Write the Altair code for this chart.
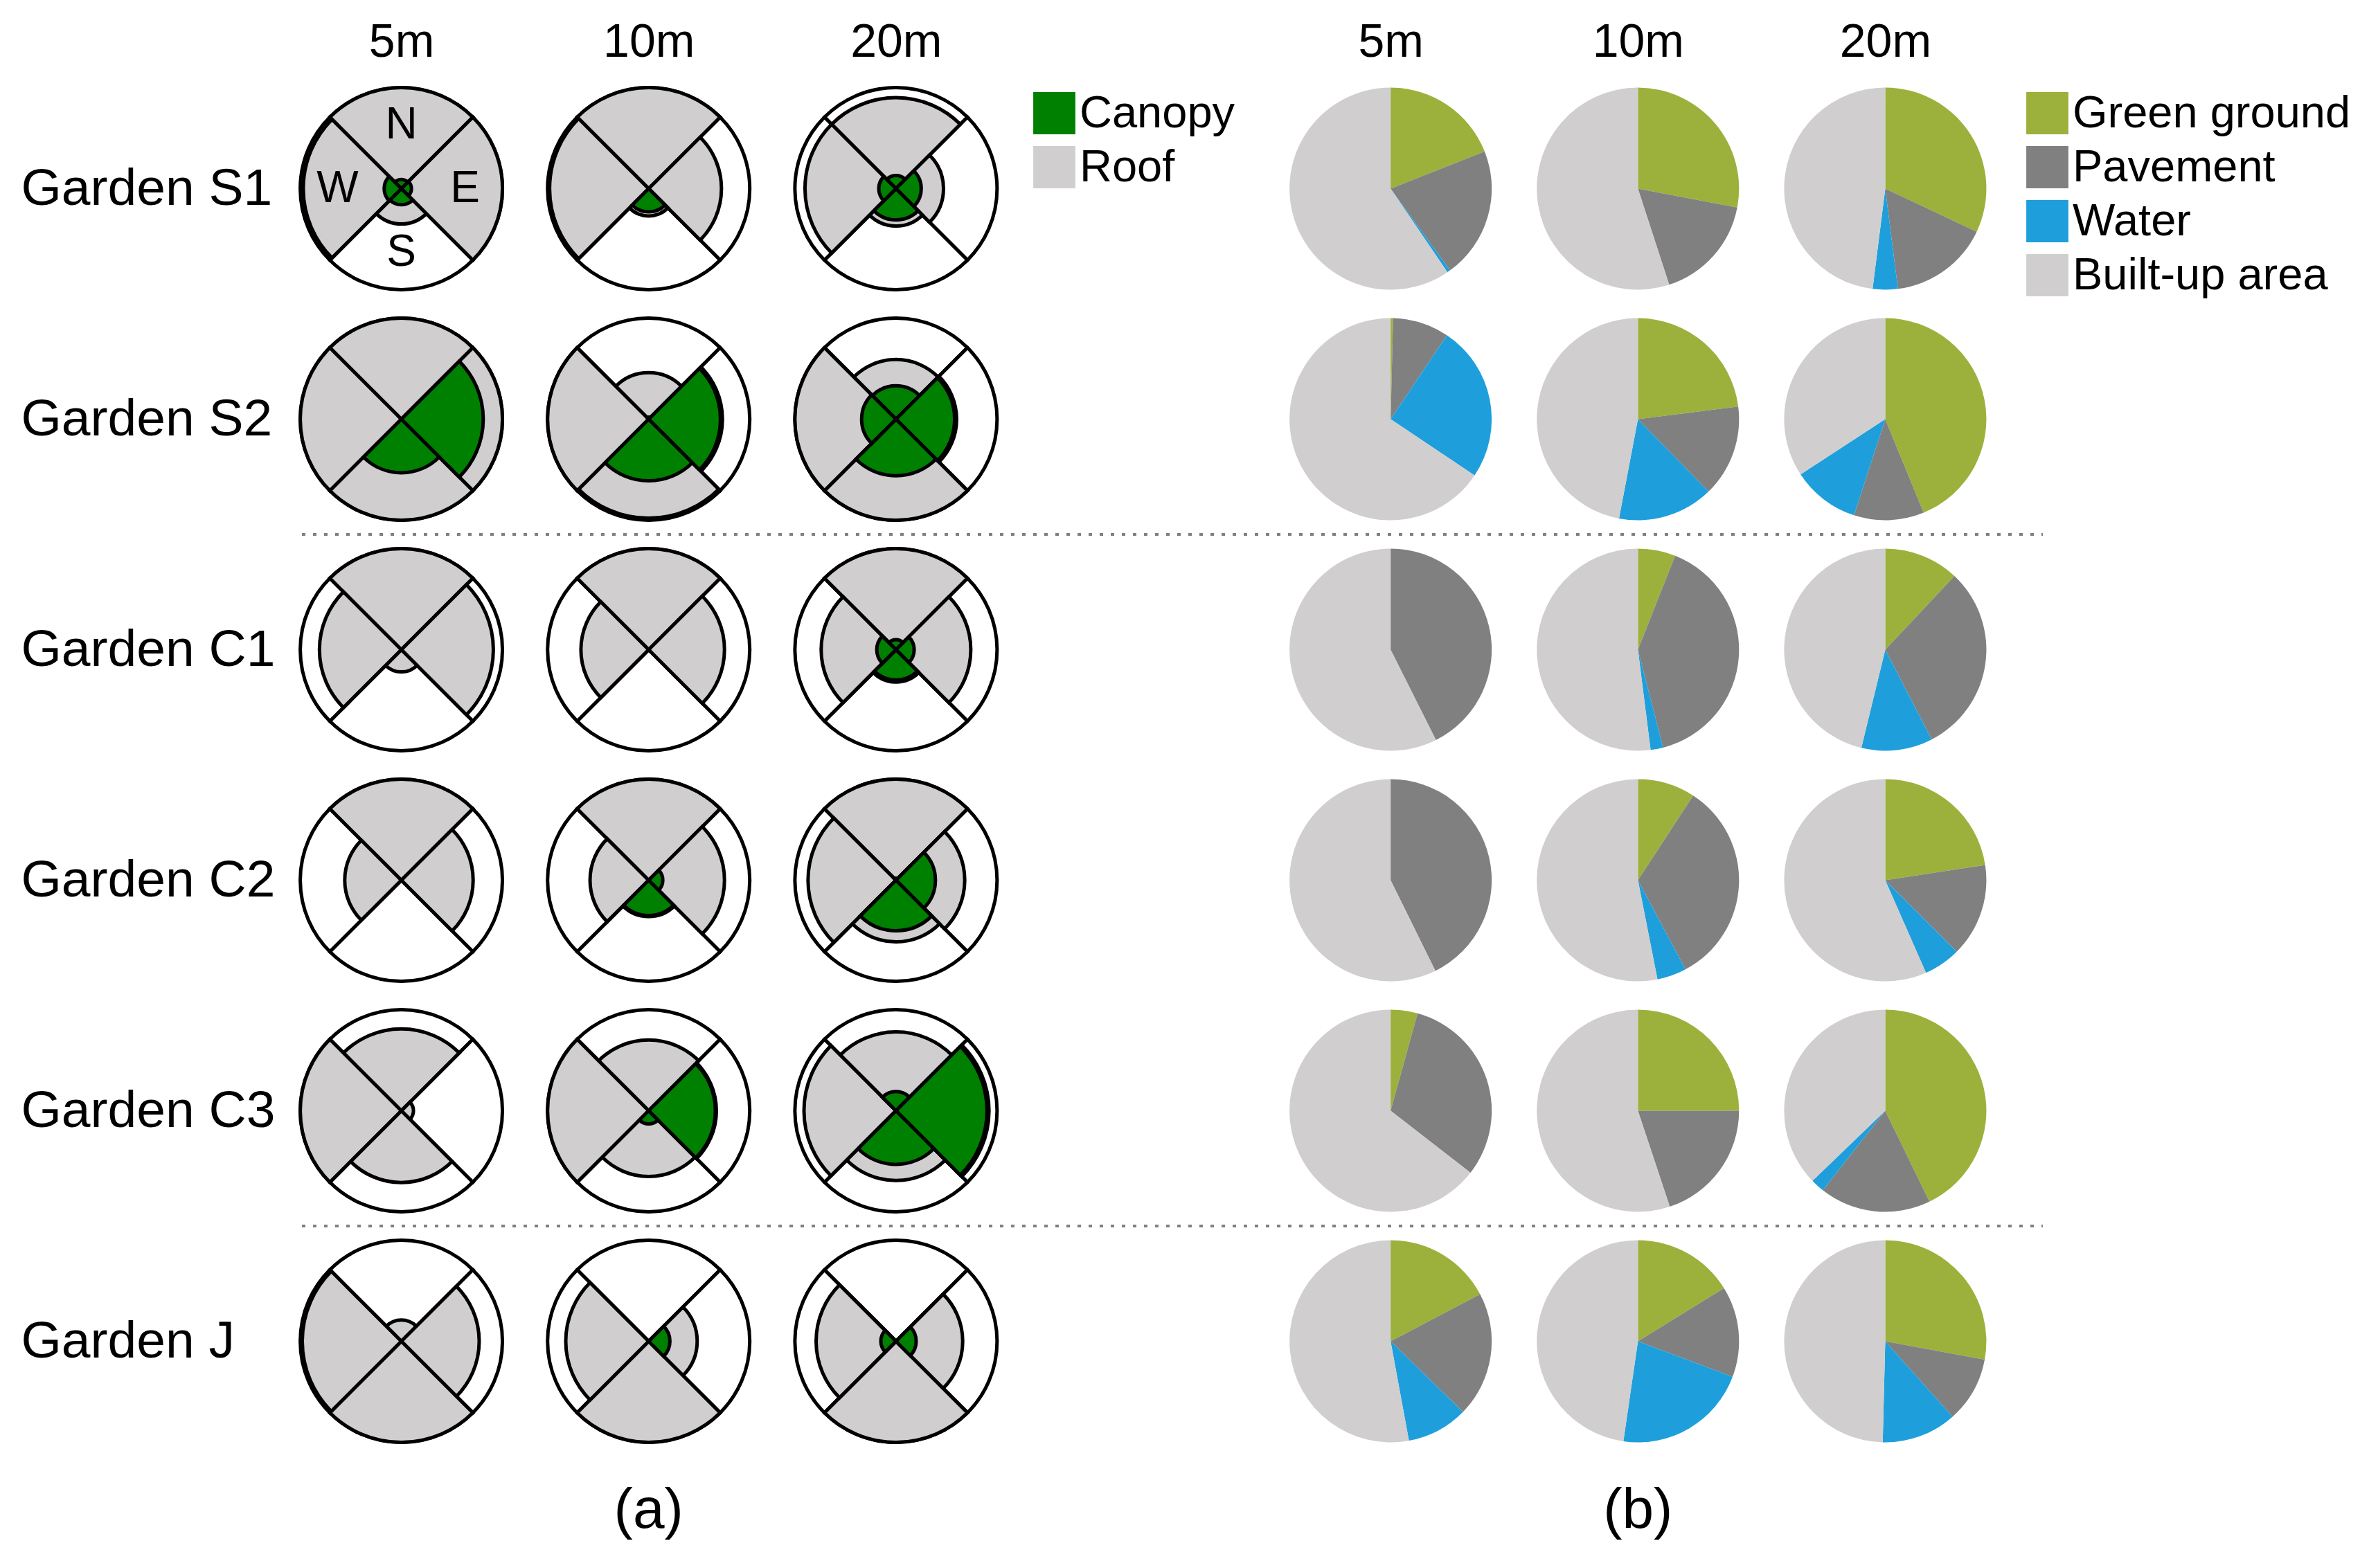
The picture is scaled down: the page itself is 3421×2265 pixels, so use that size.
import altair as alt
import pandas as pd

FONT = "Liberation Sans"

gardens = ["Garden S1", "Garden S2", "Garden C1", "Garden C2", "Garden C3", "Garden J"]
distances = ["5m", "10m", "20m"]
directions = ["N", "E", "S", "W"]
land_classes = ["Green ground", "Pavement", "Water", "Built-up area"]
cover_classes = ["Canopy", "Roof"]

# (a) relative radius of roof / canopy per direction [N, E, S, W], for 5m, 10m, 20m
roof_s1 = [[1.00, 1.00, 0.35, 0.97], [1.00, 0.72, 0.27, 0.98], [0.90, 0.47, 0.37, 0.90]]
canopy_s1 = [[0.09, 0.10, 0.16, 0.17], [0.00, 0.00, 0.23, 0.00], [0.13, 0.25, 0.31, 0.17]]
roof_s2 = [[1.00, 1.00, 1.00, 1.00], [0.46, 0.73, 0.98, 1.00], [0.59, 0.60, 1.00, 1.00]]
canopy_s2 = [[0.00, 0.81, 0.53, 0.00], [0.02, 0.71, 0.61, 0.00], [0.33, 0.58, 0.56, 0.34]]
roof_c1 = [[1.00, 0.91, 0.22, 0.81], [1.00, 0.75, 0.00, 0.67], [1.00, 0.74, 0.32, 0.74]]
canopy_c1 = [[0.00, 0.00, 0.00, 0.00], [0.00, 0.00, 0.00, 0.00], [0.10, 0.18, 0.30, 0.19]]
roof_c2 = [[1.00, 0.71, 0.00, 0.56], [1.00, 0.75, 0.36, 0.58], [1.00, 0.68, 0.61, 0.87]]
canopy_c2 = [[0.00, 0.00, 0.00, 0.00], [0.00, 0.14, 0.35, 0.00], [0.02, 0.39, 0.50, 0.00]]
roof_c3 = [[0.81, 0.12, 0.71, 1.00], [0.70, 0.67, 0.65, 1.00], [0.78, 0.92, 0.69, 0.91]]
canopy_c3 = [[0.00, 0.00, 0.00, 0.00], [0.00, 0.66, 0.13, 0.00], [0.19, 0.90, 0.53, 0.00]]
roof_j = [[0.21, 0.77, 1.00, 0.98], [0.00, 0.48, 1.00, 0.82], [0.00, 0.66, 1.00, 0.79]]
canopy_j = [[0.00, 0.00, 0.00, 0.00], [0.00, 0.21, 0.00, 0.00], [0.00, 0.20, 0.00, 0.15]]

# (b) land cover shares (%) for 5m, 10m, 20m
green_ground = {"Garden S1": [19.0, 28.0, 32.0], "Garden S2": [0.4, 23.0, 43.8],
                "Garden C1": [0.0, 6.0, 12.0], "Garden C2": [0.0, 9.2, 22.6],
                "Garden C3": [4.3, 25.0, 42.8], "Garden J": [17.3, 16.2, 27.9]}
pavement = {"Garden S1": [21.0, 17.0, 16.0], "Garden S2": [9.0, 14.7, 11.2],
            "Garden C1": [42.6, 40.0, 30.4], "Garden C2": [42.7, 33.0, 14.9],
            "Garden C3": [31.2, 19.9, 17.8], "Garden J": [20.0, 14.5, 10.5]}
water = {"Garden S1": [0.5, 0.0, 4.0], "Garden S2": [25.0, 15.3, 10.8],
         "Garden C1": [0.0, 2.0, 11.4], "Garden C2": [0.0, 4.7, 5.9],
         "Garden C3": [0.0, 0.0, 2.2], "Garden J": [9.8, 21.6, 12.0]}
built_up = {"Garden S1": [59.5, 55.0, 48.0], "Garden S2": [65.6, 47.0, 34.2],
            "Garden C1": [57.4, 52.0, 46.2], "Garden C2": [57.3, 53.1, 56.6],
            "Garden C3": [64.5, 55.1, 37.2], "Garden J": [52.9, 47.7, 49.6]}

separators = ["Garden C1", "Garden J"]
panel_labels = ["(a)", "(b)"]
panel_anchor = ["a10m", "b10m"]

roof = dict(zip(gardens, [roof_s1, roof_s2, roof_c1, roof_c2, roof_c3, roof_j]))
canopy = dict(zip(gardens, [canopy_s1, canopy_s2, canopy_c1, canopy_c2, canopy_c3, canopy_j]))

rows = []
for g in gardens:
    for i, d in enumerate(distances):
        for k, dr in enumerate(directions):
            rows.append({"garden": g, "dist": d, "dir": dr, "k": k,
                         "roof": roof[g][i][k], "canopy": canopy[g][i][k]})
sectors = pd.DataFrame(rows)

prow = []
for g in gardens:
    for i, d in enumerate(distances):
        for o, (c, src) in enumerate(zip(land_classes, [green_ground, pavement, water, built_up])):
            prow.append({"garden": g, "dist": d, "cls": c, "ord": o, "value": src[g][i]})
pies = pd.DataFrame(prow)

compass = pd.DataFrame({"garden": gardens[0], "dist": distances[0], "dir": directions,
                        "k": list(range(4))})
seps = pd.DataFrame({"garden": separators})
plabels = pd.DataFrame({"label": panel_labels, "col": panel_anchor})

X_DOMAIN = ["a" + d for d in distances] + ["gap"] + ["b" + d for d in distances]
x_scale = alt.Scale(type="point", domain=X_DOMAIN, padding=0.5)
x_axis = alt.Axis(orient="top", title=None, labelExpr="datum.value == 'gap' ? '' : slice(datum.value, 1)",
                  labelFontSize=68, labelFont=FONT, labelColor="black", labelPadding=45,
                  labelBaseline="middle", labelAngle=0, ticks=False, tickSize=0, domain=False,
                  grid=False, labelOverlap=False, labelLimit=1000)
y_scale = alt.Scale(type="band", domain=gardens, paddingInner=0, paddingOuter=0)
y_axis = alt.Axis(orient="left", title=None, labelFontSize=75, labelFont=FONT, labelColor="black",
                  labelAlign="left", labelPadding=371, labelBaseline="middle", ticks=False,
                  tickSize=0, domain=False, grid=False, labelOverlap=False, labelLimit=1000)


def X(field):
    return alt.X(f"{field}:N", scale=x_scale, axis=x_axis)


def Y(band=0.5):
    return alt.Y("garden:N", scale=y_scale, axis=y_axis, bandPosition=band)


theta_scale = alt.Scale(domain=[0, 360], range=[0, 6.283185307179586])
r_scale = alt.Scale(type="linear", domain=[0, 1], range=[0, 146])
R = 146

fill_scale = alt.Scale(domain=cover_classes, range=["#008000", "#D0CECE"])
fill_legend = alt.Legend(title=None, orient="none", legendX=1089, legendY=25, symbolType="square",
                         symbolSize=3700, symbolStrokeWidth=0, labelFontSize=65, labelFont=FONT,
                         labelColor="black", labelOffset=4, rowPadding=12, padding=0, labelLimit=1000)
color_scale = alt.Scale(domain=land_classes, range=["#9BB13C", "#808080", "#1E9FDC", "#D0CECE"])
color_legend = alt.Legend(title=None, orient="none", legendX=2523, legendY=25, symbolType="square",
                          symbolSize=3700, symbolStrokeWidth=0, labelFontSize=65, labelFont=FONT,
                          labelColor="black", labelOffset=4, rowPadding=12, padding=0, labelLimit=1000)

sec_base = alt.Chart(sectors).transform_calculate(
    xa="'a' + datum.dist", t0="datum.k * 90 - 45", t1="datum.k * 90 + 45"
)

base = sec_base.mark_arc(fill="white", stroke="black", strokeWidth=5, radius=R).encode(
    x=X("xa"), y=Y(),
    theta=alt.Theta("t0:Q", scale=theta_scale), theta2=alt.Theta2("t1:Q"),
)

roof_layer = sec_base.transform_filter("datum.roof > 0").transform_calculate(
    r="datum.roof", kind="'Roof'"
).mark_arc(stroke="black", strokeWidth=5).encode(
    x=X("xa"), y=Y(),
    theta=alt.Theta("t0:Q", scale=theta_scale), theta2=alt.Theta2("t1:Q"),
    radius=alt.Radius("r:Q", scale=r_scale),
    fill=alt.Fill("kind:N", scale=fill_scale, legend=fill_legend),
)

canopy_layer = sec_base.transform_filter("datum.canopy > 0").transform_calculate(
    r="datum.canopy", kind="'Canopy'"
).mark_arc(stroke="black", strokeWidth=5).encode(
    x=X("xa"), y=Y(),
    theta=alt.Theta("t0:Q", scale=theta_scale), theta2=alt.Theta2("t1:Q"),
    radius=alt.Radius("r:Q", scale=r_scale),
    fill=alt.Fill("kind:N", scale=fill_scale, legend=fill_legend),
)

compass_layer = alt.Chart(compass).transform_calculate(
    xa="'a' + datum.dist", tc="datum.k * 90"
).mark_text(radius=92, fontSize=64, font=FONT, color="black", baseline="middle", align="center").encode(
    x=X("xa"), y=Y(), theta=alt.Theta("tc:Q", scale=theta_scale), text="dir:N"
)

pie_layer = alt.Chart(pies).transform_filter("datum.value > 0").transform_window(
    cum="sum(value)", groupby=["garden", "dist"], sort=[alt.SortField("ord")]
).transform_calculate(
    xb="'b' + datum.dist", t0="(datum.cum - datum.value) * 3.6", t1="datum.cum * 3.6"
).mark_arc(radius=R).encode(
    x=X("xb"), y=Y(),
    theta=alt.Theta("t0:Q", scale=theta_scale), theta2=alt.Theta2("t1:Q"),
    color=alt.Color("cls:N", scale=color_scale, legend=color_legend),
)

sep_layer = alt.Chart(seps).mark_rule(strokeDash=[5, 11], strokeWidth=4, color="#808080").encode(
    y=Y(0), x=alt.value(35), x2=alt.value(2549)
)

label_layer = alt.Chart(plabels).mark_text(fontSize=82, font=FONT, color="black", baseline="middle").encode(
    x=X("col"), y=alt.value(2076), text="label:N"
)

chart = alt.layer(base, roof_layer, canopy_layer, compass_layer, pie_layer, sep_layer, label_layer).properties(
    width=2500, height=1998,
    autosize=alt.AutoSizeParams(type="none"),
    padding={"left": 393, "top": 98, "right": 512, "bottom": 153},
    background="white",
).configure_view(stroke=None)

chart.save("out.html", embed_options={"renderer": "svg", "actions": False})
